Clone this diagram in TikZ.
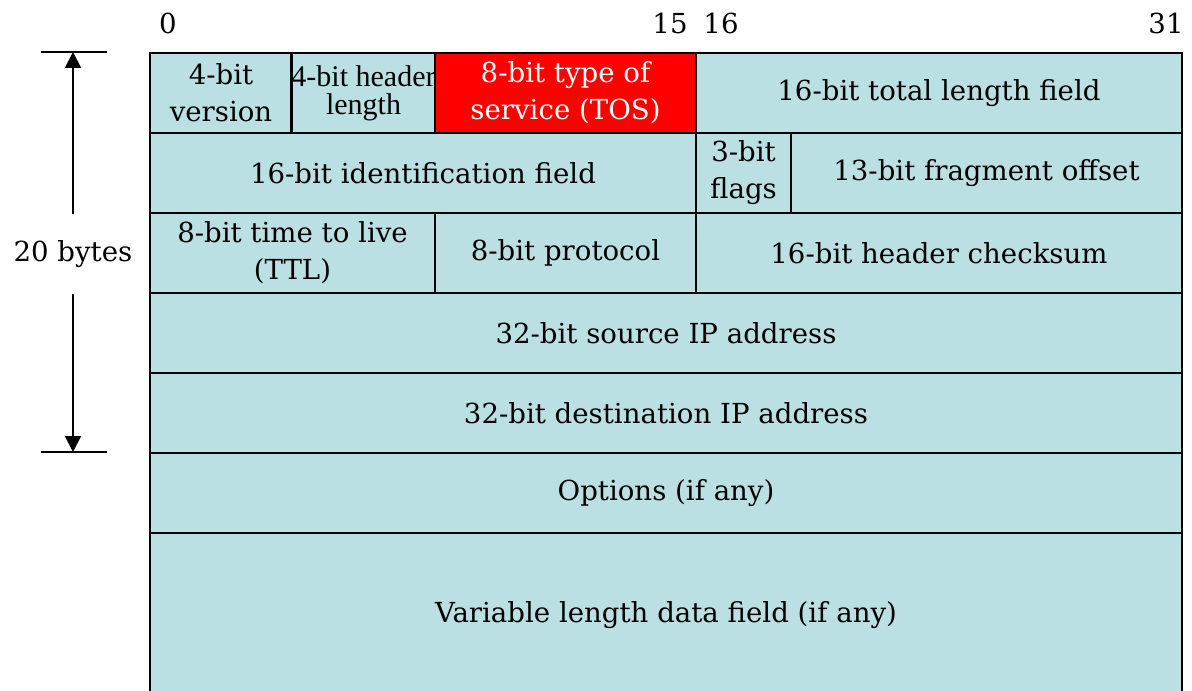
\documentclass[tikz,border=0pt]{standalone}
\usepackage{fontspec}
\setmainfont{DejaVu Serif}
\newfontfamily\timesfont{Liberation Serif}
\usetikzlibrary{arrows.meta}
\definecolor{cellblue}{RGB}{186,224,227}
\definecolor{tosred}{RGB}{255,0,0}

\begin{document}
\begin{tikzpicture}[x=0.5pt, y=-0.5pt,
    field/.style={draw, fill=cellblue, line width=1.4pt, inner sep=0pt, outer sep=0pt,
      align=center, font=\fontsize{13.8}{18.5}\selectfont},
    bitnum/.style={anchor=base, inner sep=0pt, font=\fontsize{13.8}{18.5}\selectfont},
    bound/.style={line width=1pt}]
  \useasboundingbox (0,0) rectangle (1192,690);

  % Bit positions
  \node[bitnum] (b0) at (168,34) {0};
  \node[bitnum] (b15) at (670,34) {15};
  \node[bitnum] (b16) at (721,34) {16};
  \node[bitnum] (b31) at (1166,34) {31};

  % Row 1
  \node[field, minimum width=71pt, minimum height=40pt] (ver) at (221,93) {4-bit\\version};
  \node[field, minimum width=71.5pt, minimum height=40pt,
    font=\timesfont\fontsize{15}{14}\selectfont] (hlen) at (363.5,93) {4-bit header\\length};
  \node[field, fill=tosred, text=white, minimum width=130.5pt, minimum height=40pt] (tos) at (565.5,93) {8-bit type of\\service (TOS)};
  \node[field, minimum width=243pt, minimum height=40pt] (tlen) at (939,93) {16-bit total length field};

  % Row 2
  \node[field, minimum width=273pt, minimum height=40pt] (ident) at (423,173) {16-bit identification field};
  \node[field, minimum width=47.5pt, minimum height=40pt] (flags) at (743.5,173) {3-bit\\flags};
  \node[field, minimum width=195.5pt, minimum height=40pt] (frag) at (986.5,173) {13-bit fragment offset};

  % Row 3
  \node[field, minimum width=142.5pt, minimum height=40pt] (ttl) at (292.5,253) {8-bit time to live\\(TTL)};
  \node[field, minimum width=130.5pt, minimum height=40pt] (proto) at (565.5,253) {8-bit protocol};
  \node[field, minimum width=243pt, minimum height=40pt] (csum) at (939,253) {16-bit header checksum};

  % Full-width rows
  \node[field, minimum width=516pt, minimum height=40pt] (src) at (666,333) {32-bit source IP address};
  \node[field, minimum width=516pt, minimum height=40pt] (dst) at (666,413) {32-bit destination IP address};
  \node[field, minimum width=516pt, minimum height=40pt] (opts) at (666,493) {Options (if any)};
  \node[field, minimum width=516pt, minimum height=82pt] (data) at (666,615) {Variable length data field (if any)};

  % Header size
  \coordinate (htop) at (73,52);
  \coordinate (hbot) at (73,452);
  \draw[bound] (41,52) -- (107,52);
  \draw[bound] (41,452) -- (107,452);
  \node[minimum height=40pt, inner sep=0pt, font=\fontsize{13.8}{18.5}\selectfont] (bytes) at (73,254) {20 bytes};
  \draw[bound, -{Triangle[length=8pt,width=8pt]}] (bytes.north) -- (htop);
  \draw[bound, -{Triangle[length=8pt,width=8pt]}] (bytes.south) -- (hbot);
\end{tikzpicture}
\end{document}
